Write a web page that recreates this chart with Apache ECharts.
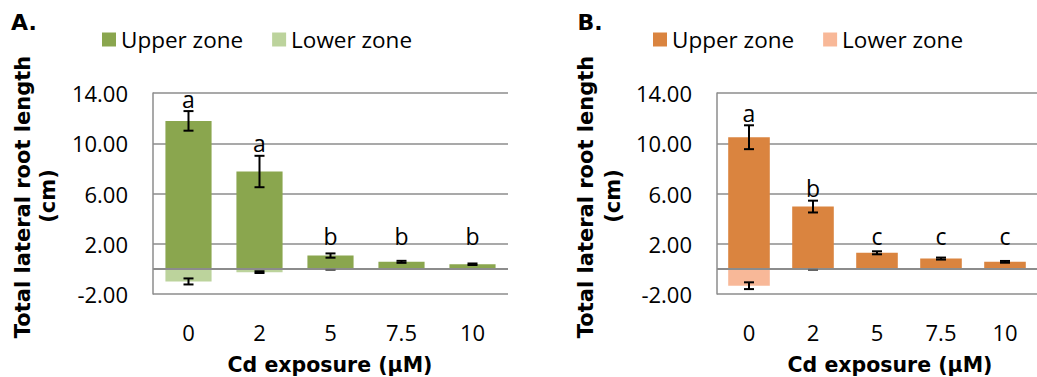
<!DOCTYPE html>
<html>
<head>
<meta charset="utf-8">
<script src="https://cdn.jsdelivr.net/npm/echarts@6/dist/echarts.min.js"></script>
<style>
  html, body { margin: 0; padding: 0; background: #fff; }
  #wrap { position: relative; width: 1037px; height: 377px; overflow: hidden; }
  #panelA { position: absolute; left: 0; top: 0; width: 520px; height: 377px; }
  #panelB { position: absolute; left: 520px; top: 0; width: 517px; height: 377px; }
</style>
</head>
<body>
<div id="wrap">
  <div id="panelA"></div>
  <div id="panelB"></div>
</div>
<script>
// Cd exposure levels (µM)
const categories = ['0', '2', '5', '7.5', '10'];

// Value axis range shared by both panels
const yMin = -2;
const yMax = 14;
const yStep = 4;

// Panel A: total lateral root length (cm), mean and error
const upperA = [11.78, 7.75, 1.06, 0.56, 0.37];
const upperErrA = [0.78, 1.25, 0.17, 0.08, 0.06];
const lowerA = [-1.0, -0.26, -0.08, -0.01, -0.01];
const lowerErrA = [0.24, 0.07, 0.03, 0, 0];
const lettersA = ['a', 'a', 'b', 'b', 'b'];

// Panel B
const upperB = [10.48, 4.96, 1.28, 0.82, 0.56];
const upperErrB = [0.95, 0.47, 0.12, 0.08, 0.07];
const lowerB = [-1.34, -0.08, -0.01, -0.01, -0.01];
const lowerErrB = [0.27, 0.03, 0, 0, 0];
const lettersB = ['a', 'b', 'c', 'c', 'c'];

const AXIS_GRAY = '#8c8c8c';
const TICK_FONT = '"Open Sans", "Noto Sans", sans-serif';
const BOLD_FONT = '"DejaVu Sans", Verdana, sans-serif';

function errorSeries(name, values, errs, letters) {
  return {
    type: 'custom',
    name: name,
    z: 5,
    data: values.map((v, i) => [i, v, errs[i]]),
    renderItem: function (params, api) {
      const i = api.value(0), v = api.value(1), e = api.value(2);
      const hi = api.coord([i, v + e]);
      const lo = api.coord([i, v - e]);
      const x = hi[0];
      const cap = 5;
      const children = [];
      if (e > 0) {
        // very small errors collapse into a short grey dash
        const ls = { stroke: e < 0.05 ? '#666' : '#000', lineWidth: e < 0.05 ? 1.5 : 2 };
        children.push(
          { type: 'line', shape: { x1: x, y1: hi[1], x2: x, y2: lo[1] }, style: ls },
          { type: 'line', shape: { x1: x - cap, y1: hi[1], x2: x + cap, y2: hi[1] }, style: ls },
          { type: 'line', shape: { x1: x - cap, y1: lo[1], x2: x + cap, y2: lo[1] }, style: ls }
        );
      }
      if (letters) {
        // letter sits a little above the error bar, never below the 2.00 line
        const floor = api.coord([i, 2])[1] - 1;
        const base = Math.min(hi[1] - 6, floor);
        children.push({
          type: 'text',
          style: {
            text: letters[params.dataIndex],
            x: x, y: base - 6.5,
            align: 'center', verticalAlign: 'middle',
            textAlign: 'center', textVerticalAlign: 'middle',
            fill: '#000',
            font: '23px ' + TICK_FONT
          }
        });
      }
      return { type: 'group', children: children };
    }
  };
}

function centeredText(text, x, y, font, rotation) {
  return {
    type: 'text', x: x, y: y, rotation: rotation || 0,
    style: { text: text, font: font, fill: '#000',
             align: 'center', verticalAlign: 'middle',
             textAlign: 'center', textVerticalAlign: 'middle' }
  };
}

function buildOption(p) {
  return {
    animation: false,
    backgroundColor: '#fff',
    legend: {
      data: ['Upper zone', 'Lower zone'],
      left: p.legendLeft, top: 28,
      padding: 0,
      icon: 'rect',
      itemWidth: 14, itemHeight: 14,
      itemGap: 29,
      textStyle: { fontFamily: TICK_FONT, fontSize: 22.5, color: '#000', lineHeight: 22 }
    },
    grid: { left: p.gridLeft, top: 93, width: p.gridWidth, height: 201, containLabel: false },
    xAxis: {
      type: 'category',
      data: categories,
      axisLine: { show: false, onZero: false },
      axisTick: { show: false },
      axisLabel: { margin: 27, fontFamily: TICK_FONT, fontSize: 22, color: '#000' }
    },
    yAxis: {
      type: 'value',
      min: yMin, max: yMax, interval: yStep,
      axisLine: { show: true, lineStyle: { color: AXIS_GRAY, width: 1.5 } },
      axisTick: { show: false },
      splitLine: { show: true, lineStyle: { color: AXIS_GRAY, width: 1.5 } },
      axisLabel: {
        margin: 25, fontFamily: TICK_FONT, fontSize: 22, color: '#000',
        formatter: v => v.toFixed(2)
      }
    },
    series: [
      {
        name: 'Upper zone', type: 'bar', stack: 'zone',
        barWidth: '65%',
        itemStyle: { color: p.upperColor },
        data: p.upper,
        markLine: {
          silent: true, symbol: 'none',
          label: { show: false },
          lineStyle: { color: AXIS_GRAY, width: 2, type: 'solid' },
          data: [{ yAxis: 0 }]
        }
      },
      {
        name: 'Lower zone', type: 'bar', stack: 'zone',
        barWidth: '65%',
        itemStyle: { color: p.lowerColor },
        data: p.lower
      },
      errorSeries('upper error', p.upper, p.upperErr, p.letters),
      errorSeries('lower error', p.lower, p.lowerErr, null)
    ],
    graphic: [
      centeredText(p.tag, p.tagX, 22, 'bold 22px ' + BOLD_FONT),
      centeredText('Total lateral root length', p.titleX1, 197, 'bold 21px ' + BOLD_FONT, Math.PI / 2),
      centeredText('(cm)', p.titleX2, 196, 'bold 21px ' + BOLD_FONT, Math.PI / 2),
      centeredText('Cd exposure (µM)', p.xTitleX, 365, 'bold 20.5px ' + BOLD_FONT)
    ]
  };
}

const chartA = echarts.init(document.getElementById('panelA'), null, { renderer: 'svg' });
chartA.setOption(buildOption({
  tag: 'A.', tagX: 24,
  titleX1: 23, titleX2: 48, xTitleX: 330,
  legendLeft: 102,
  gridLeft: 153, gridWidth: 355,
  upperColor: '#8aa64e', lowerColor: '#bcd39c',
  upper: upperA, upperErr: upperErrA,
  lower: lowerA, lowerErr: lowerErrA,
  letters: lettersA
}));

const chartB = echarts.init(document.getElementById('panelB'), null, { renderer: 'svg' });
chartB.setOption(buildOption({
  tag: 'B.', tagX: 70,
  titleX1: 66, titleX2: 93, xTitleX: 370,
  legendLeft: 133,
  gridLeft: 197, gridWidth: 330,
  upperColor: '#da843f', lowerColor: '#f8b898',
  upper: upperB, upperErr: upperErrB,
  lower: lowerB, lowerErr: lowerErrB,
  letters: lettersB
}));
</script>
</body>
</html>
